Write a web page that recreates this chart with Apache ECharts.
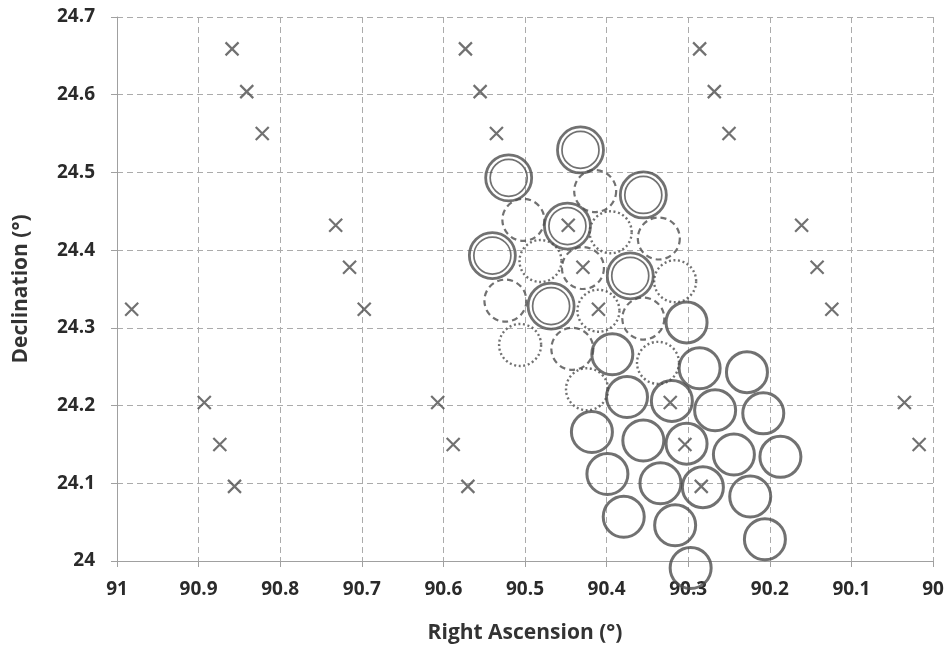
<!DOCTYPE html>
<html>
<head>
<meta charset="utf-8">
<script src="https://cdn.jsdelivr.net/npm/echarts@6/dist/echarts.min.js"></script>
<style>
  html, body { margin: 0; padding: 0; background: #fff; }
  #chart { width: 948px; height: 649px; }
</style>
</head>
<body>
<div id="chart"></div>
<script>
// Reference star positions (crosses)
const crossRA = [
  90.859, 90.841, 90.822, 90.573, 90.555, 90.535, 90.286, 90.268, 90.250,
  90.982, 90.732, 90.715, 90.697, 90.447, 90.429, 90.410, 90.161, 90.142, 90.124,
  90.893, 90.874, 90.856, 90.607, 90.588, 90.570, 90.322, 90.304, 90.284, 90.035, 90.017
];
const crossDec = [
  24.659, 24.604, 24.550, 24.659, 24.604, 24.550, 24.659, 24.604, 24.550,
  24.324, 24.432, 24.378, 24.324, 24.432, 24.378, 24.324, 24.432, 24.378, 24.324,
  24.204, 24.150, 24.096, 24.204, 24.150, 24.096, 24.204, 24.150, 24.096, 24.204, 24.150
];

// Field-of-view centres, solid outline
const solidRA = [
  90.302, 90.286, 90.228, 90.320, 90.267, 90.208, 90.302, 90.244, 90.187, 90.334, 90.282,
  90.224, 90.316, 90.206, 90.297, 90.393, 90.375, 90.418, 90.355, 90.399, 90.379
];
const solidDec = [
  24.307, 24.248, 24.243, 24.206, 24.194, 24.190, 24.151, 24.137, 24.134, 24.100, 24.095,
  24.083, 24.046, 24.028, 23.991, 24.266, 24.211, 24.166, 24.155, 24.112, 24.057
];

// Field-of-view centres, double outline
const doubleRA  = [90.432, 90.520, 90.355, 90.448, 90.540, 90.371, 90.468];
const doubleDec = [24.529, 24.493, 24.471, 24.431, 24.393, 24.367, 24.328];

// Field-of-view centres, dashed outline
const dashedRA  = [90.414, 90.502, 90.336, 90.429, 90.524, 90.355, 90.442];
const dashedDec = [24.476, 24.439, 24.415, 24.377, 24.335, 24.312, 24.273];

// Field-of-view centres, dotted outline
const dottedRA  = [90.395, 90.481, 90.316, 90.410, 90.506, 90.337, 90.424];
const dottedDec = [24.423, 24.386, 24.360, 24.322, 24.278, 24.255, 24.221];

const xTicks = { min: 90, max: 91, step: 0.1 };
const yTicks = { min: 24, max: 24.7, step: 0.1 };

const pairs = (xs, ys) => xs.map((x, i) => [x, ys[i]]);

const ink = '#4d4d4d';
const gridColor = '#ababab';
const font = 'Open Sans';

function ringSeries(name, data, size, width, type) {
  return {
    name, type: 'scatter', data, symbol: 'circle', symbolSize: size,
    silent: true, clip: false,
    itemStyle: { color: 'rgba(0,0,0,0)', borderColor: ink, borderWidth: width, borderType: type },
    z: 3
  };
}

const chart = echarts.init(document.getElementById('chart'), null, { renderer: 'canvas' });
chart.setOption({
  animation: false,
  backgroundColor: '#ffffff',
  grid: { left: 117, right: 15, top: 17, bottom: 84, containLabel: false },
  xAxis: {
    type: 'value', inverse: true,
    min: xTicks.min, max: xTicks.max, interval: xTicks.step,
    name: 'Right Ascension (°)', nameLocation: 'middle', nameGap: 62,
    nameTextStyle: { fontFamily: font, fontWeight: 'bold', fontSize: 21, color: '#333' },
    axisLine: { show: true, onZero: false, lineStyle: { color: '#a0a0a0', width: 1 } },
    axisTick: { show: true, inside: false, length: 6, lineStyle: { color: '#a0a0a0' } },
    axisLabel: { fontFamily: font, fontWeight: 'bold', fontSize: 19, color: '#2a2a2a', margin: 19 },
    splitLine: { show: true, lineStyle: { color: gridColor, type: [6, 4], width: 1 } }
  },
  yAxis: {
    type: 'value',
    min: yTicks.min, max: yTicks.max, interval: yTicks.step,
    name: 'Declination (°)', nameLocation: 'middle', nameGap: 85, nameRotate: 90,
    nameTextStyle: { fontFamily: font, fontWeight: 'bold', fontSize: 21, color: '#333' },
    axisLine: { show: true, onZero: false, lineStyle: { color: '#a0a0a0', width: 1 } },
    axisTick: { show: true, inside: false, length: 6, lineStyle: { color: '#a0a0a0' } },
    axisLabel: { fontFamily: font, fontWeight: 'bold', fontSize: 19, color: '#2a2a2a', margin: 22 },
    splitLine: { show: true, lineStyle: { color: gridColor, type: [6, 4], width: 1 } }
  },
  series: [
    ringSeries('solid', pairs(solidRA, solidDec), 41, 3, 'solid'),
    ringSeries('double-outer', pairs(doubleRA, doubleDec), 46, 2.8, 'solid'),
    ringSeries('double-inner', pairs(doubleRA, doubleDec), 37, 1.7, 'solid'),
    ringSeries('dashed', pairs(dashedRA, dashedDec), 42, 2.2, [6, 4]),
    ringSeries('dotted', pairs(dottedRA, dottedDec), 42, 2.4, [2, 2.6]),
    {
      name: 'stars', type: 'scatter', data: pairs(crossRA, crossDec),
      symbol: 'path://M0,0L10,10M10,0L0,10', symbolSize: 13, silent: true, clip: false,
      itemStyle: { color: 'rgba(0,0,0,0)', borderColor: ink, borderWidth: 2.2 },
      z: 5
    }
  ]
});
</script>
</body>
</html>
